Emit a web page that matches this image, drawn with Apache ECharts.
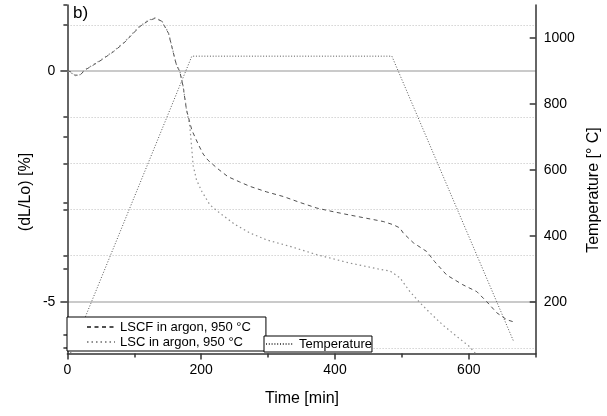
<!DOCTYPE html>
<html><head><meta charset="utf-8">
<script src="https://cdn.jsdelivr.net/npm/echarts@6/dist/echarts.min.js"></script>
<style>html,body{margin:0;padding:0;background:#fff}#c{width:607px;height:416px}</style>
</head><body><div id="c"></div>
<script>
// ---- data ----
const lscfTime = [0, 4, 11, 19, 26, 39, 51, 69, 84, 96, 108, 121, 131, 141, 151, 156, 163, 168, 173, 178, 186, 196, 203, 210, 225, 240, 257, 273, 298, 323, 348, 373, 398, 422, 447, 472, 487, 497, 502, 517, 537, 549, 567, 591, 612, 627, 642, 657, 666];
const lscfDL   = [0, -0.01, -0.09, -0.09, 0.02, 0.13, 0.24, 0.42, 0.6, 0.78, 0.96, 1.09, 1.14, 1.08, 0.82, 0.53, 0.13, -0.01, -0.34, -0.84, -1.28, -1.6, -1.8, -1.93, -2.12, -2.29, -2.4, -2.5, -2.62, -2.72, -2.85, -2.97, -3.05, -3.12, -3.19, -3.26, -3.33, -3.4, -3.51, -3.72, -3.91, -4.13, -4.42, -4.63, -4.78, -5.0, -5.24, -5.39, -5.43];
const lscTime  = [0, 4, 11, 19, 26, 39, 51, 69, 84, 96, 108, 121, 131, 141, 151, 156, 163, 168, 173, 178, 183, 186, 188, 193, 201, 213, 228, 251, 273, 298, 333, 373, 422, 472, 482, 497, 512, 527, 542, 561, 582, 601, 610];
const lscDL    = [0, -0.02, -0.1, -0.08, 0.03, 0.14, 0.25, 0.43, 0.61, 0.79, 0.97, 1.1, 1.15, 1.09, 0.83, 0.54, 0.14, 0.0, -0.33, -0.83, -1.2, -1.7, -2.05, -2.36, -2.61, -2.9, -3.08, -3.33, -3.51, -3.66, -3.8, -3.98, -4.16, -4.31, -4.33, -4.48, -4.78, -5.02, -5.24, -5.5, -5.75, -5.97, -6.12];
const tempTime = [0, 186, 485, 667];
const tempC    = [21, 945, 945, 80];

const timeMajor = [0, 200, 400, 600];
const timeMinor = [100, 300, 500, 700];
const dlMajor = [-5, 0];
const dlMinor = [-6, -4, -3, -2, -1, 1];
const tempMajor = [200, 400, 600, 800, 1000];
const tempMinor = [100, 300, 500, 700, 900, 1100];

const dlMin = -6.12, dlMax = 1.43;
const tempMin = 900 + 140 * dlMin, tempMax = 900 + 140 * dlMax;
const timeMin = 0, timeMax = 700;

const seriesNames = ['LSCF in argon, 950 °C', 'LSC in argon, 950 °C', 'Temperature'];

// ---- build ----
const zip = (a, b) => a.map((v, i) => [v, b[i]]);
const FONT = "'Liberation Sans', Arial, sans-serif";
const AXC = '#333';
const plain = v => String(v);

const chart = echarts.init(document.getElementById('c'), null, {renderer: 'canvas'});
const grid = {left: 67.4, right: 71.3, top: 5, bottom: 62.5};

function yAx(opts) {
  return Object.assign({
    type: 'value', gridIndex: 0,
    axisLine: {show: false, lineStyle: {color: AXC, width: 1.5}},
    axisLabel: {show: false},
    axisTick: {show: false},
    splitLine: {show: false}
  }, opts);
}

const legendCommon = {
  itemWidth: 28, itemHeight: 14,
  borderColor: '#000', borderWidth: 1, backgroundColor: '#fff', borderRadius: 0,
  selectedMode: false, z: 10,
  itemStyle: {opacity: 0, borderWidth: 0},
  textStyle: {fontSize: 13, color: '#000', fontFamily: FONT, lineHeight: 14}
};

chart.setOption({
  animation: false,
  backgroundColor: '#fff',
  grid: grid,
  xAxis: [
    {type: 'value', min: timeMin, max: timeMax, position: 'bottom',
     axisLine: {show: true, onZero: false, lineStyle: {color: AXC, width: 1.5}},
     axisTick: {show: true, inside: false, length: 6, customValues: timeMajor, lineStyle: {color: AXC, width: 1.5}},
     axisLabel: {show: true, customValues: timeMajor, formatter: plain, margin: 10, fontSize: 14, color: '#000', fontFamily: FONT},
     splitLine: {show: false}},
    {type: 'value', min: timeMin, max: timeMax, position: 'bottom',
     axisLine: {show: false, onZero: false},
     axisTick: {show: true, inside: false, length: 4, customValues: timeMinor, lineStyle: {color: AXC, width: 1.5}},
     axisLabel: {show: false}, splitLine: {show: false}}
  ],
  yAxis: [
    yAx({min: dlMin, max: dlMax, position: 'left',
      axisLine: {show: true, onZero: false, lineStyle: {color: AXC, width: 1.5}},
      axisTick: {show: true, inside: false, length: 7, customValues: dlMajor, lineStyle: {color: AXC, width: 1.5}},
      axisLabel: {show: true, customValues: dlMajor, formatter: plain, margin: 12, fontSize: 14, color: '#000', fontFamily: FONT},
      splitLine: {show: true, lineStyle: {color: '#b8b8b8', width: 1.5, type: 'solid'}}}),
    yAx({min: dlMin, max: dlMax, position: 'left',
      axisTick: {show: true, inside: false, length: 4, customValues: dlMinor, lineStyle: {color: AXC, width: 1.5}},
      splitLine: {show: true, lineStyle: {color: '#d4d4d4', width: 1, type: [1.5, 1.5]}}}),
    yAx({min: tempMin, max: tempMax, position: 'right',
      axisLine: {show: true, onZero: false, lineStyle: {color: AXC, width: 1.5}},
      axisTick: {show: true, inside: true, length: 6, customValues: tempMajor, lineStyle: {color: AXC, width: 1.5}},
      axisLabel: {show: true, customValues: tempMajor, formatter: plain, margin: 8, fontSize: 14, color: '#000', fontFamily: FONT}}),
    yAx({min: tempMin, max: tempMax, position: 'right',
      axisTick: {show: true, inside: true, length: 4, customValues: tempMinor, lineStyle: {color: AXC, width: 1.5}}})
  ],
  legend: [
    Object.assign({}, legendCommon, {
      data: [seriesNames[0], seriesNames[1]], orient: 'vertical', left: 67, top: 317,
      itemGap: 1, padding: [3, 15, 2, 19]}),
    Object.assign({}, legendCommon, {
      data: [seriesNames[2]], orient: 'horizontal', left: 264, top: 336,
      padding: [1, 0, 1, 1]})
  ],
  graphic: [
    {type: 'text', x: 73, y: 5, z: 20, style: {text: 'b)', font: "17px 'Liberation Sans', Arial", fill: '#000'}},
    {type: 'text', x: 26, y: 192, rotation: Math.PI / 2, z: 20,
     style: {text: '(dL/Lo) [%]', font: "16px 'Liberation Sans', Arial", fill: '#000', align: 'center', verticalAlign: 'middle'}},
    {type: 'text', x: 594, y: 190, rotation: Math.PI / 2, z: 20,
     style: {text: 'Temperature [° C]', font: "16px 'Liberation Sans', Arial", fill: '#000', align: 'center', verticalAlign: 'middle'}},
    {type: 'text', x: 302, y: 399, z: 20,
     style: {text: 'Time [min]', font: "16px 'Liberation Sans', Arial", fill: '#000', align: 'center', verticalAlign: 'middle'}}
  ],
  series: [
    {name: seriesNames[0], type: 'line', xAxisIndex: 0, yAxisIndex: 0, data: zip(lscfTime, lscfDL),
     showSymbol: false, symbol: 'none', smooth: false, z: 3,
     lineStyle: {color: '#505050', width: 1, type: [4, 3.5]}, itemStyle: {color: '#505050'}},
    {name: seriesNames[1], type: 'line', xAxisIndex: 0, yAxisIndex: 0, data: zip(lscTime, lscDL),
     showSymbol: false, symbol: 'none', smooth: false, z: 3,
     lineStyle: {color: '#909090', width: 1.2, type: [1.5, 3]}, itemStyle: {color: '#909090'}},
    {name: seriesNames[2], type: 'line', xAxisIndex: 0, yAxisIndex: 2, data: zip(tempTime, tempC),
     showSymbol: false, symbol: 'none', smooth: false, z: 3,
     lineStyle: {color: '#555555', width: 1, type: [1, 1.8]}, itemStyle: {color: '#555555'}}
  ]
});
</script></body></html>
